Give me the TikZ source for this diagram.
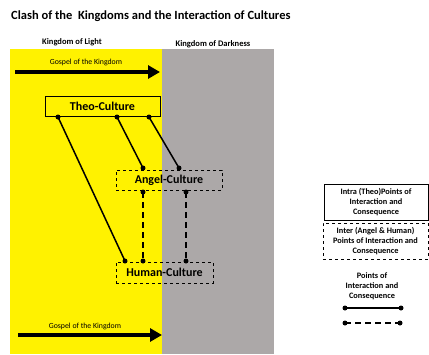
\documentclass[tikz,border=0pt]{standalone}
\usepackage{fontspec}
\setmainfont{Carlito}
\usetikzlibrary{arrows.meta}
\definecolor{kgray}{RGB}{172,168,168}
\tikzset{
  lbl/.style={font=\bfseries\fontsize{8.3}{9.8}\selectfont, align=center, inner sep=0pt},
  culture/.style={draw, font=\bfseries\fontsize{12}{13}\selectfont, inner sep=0pt, line width=0.7pt},
  dbox/.style={culture, dashed},
  dot/.style={circle, fill=black, inner sep=0pt, minimum size=5pt},
  link/.style={line width=1.5pt},
  dlink/.style={link, dash pattern=on 6pt off 4pt},
  bigarrow/.style={line width=4pt, -{Triangle[length=12pt,width=13pt]}}
}
\begin{document}
\begin{tikzpicture}[x=1pt,y=-1pt]
\useasboundingbox (0,0) rectangle (429,354);
\fill[yellow] (10,49) rectangle (162,354);
\fill[kgray] (162,49) rectangle (274,354);
\node[anchor=west, font=\bfseries\fontsize{12.5}{14}\selectfont, inner sep=0pt] (title) at (11,16) {Clash of the\ \ Kingdoms and the Interaction of Cultures};
\node[lbl, font=\bfseries\fontsize{8.5}{9}\selectfont] (kl) at (72,42) {Kingdom of Light};
\node[lbl, font=\bfseries\fontsize{8.5}{9}\selectfont] (kd) at (213,44) {Kingdom of Darkness};
% top arrow
\coordinate (a1s) at (15,72);
\coordinate (a1e) at (160,72);
\draw[bigarrow] (a1s) -- (a1e);
\node[lbl, font=\fontsize{7.8}{8}\selectfont] (g1) at (86,62) {Gospel of the Kingdom};
% bottom arrow
\coordinate (a2s) at (18,335);
\coordinate (a2e) at (162,335);
\draw[bigarrow] (a2s) -- (a2e);
\node[lbl, font=\fontsize{7.8}{8}\selectfont] (g2) at (85,326) {Gospel of the Kingdom};
% boxes
\node[culture, minimum width=115pt, minimum height=20pt] (theo) at (102.5,106) {Theo-Culture};
\node[dbox, minimum width=106pt, minimum height=20pt] (angel) at (169,180) {Angel-Culture};
\node[dbox, minimum width=97pt, minimum height=21pt] (human) at (164.5,272.5) {Human-Culture};
% dots
\node[dot] (t1) at (58,117) {};
\node[dot] (t2) at (117,117) {};
\node[dot] (t3) at (149,117) {};
\node[dot] (a1) at (143,168) {};
\node[dot] (a2) at (179,168) {};
\node[dot] (a3) at (143,192) {};
\node[dot] (a4) at (186,192) {};
\node[dot] (h1) at (125,261) {};
\node[dot] (h2) at (143,261) {};
\node[dot] (h3) at (186,261) {};
% links
\draw[link] (t1.center) -- (h1.center);
\draw[link] (t2.center) -- (a1.center);
\draw[link] (t3.center) -- (a2.center);
\draw[dlink] (a3.center) -- (h2.center);
\draw[dlink] (a4.center) -- (h3.center);
% legend
\node[draw, lbl, minimum width=104pt, minimum height=36pt, line width=0.6pt] (leg1) at (376,202) {Intra (Theo)Points of\\Interaction and\\Consequence};
\node[draw, dashed, lbl, minimum width=105pt, minimum height=36pt, line width=0.6pt] (leg2) at (375.5,241) {Inter (Angel \& Human)\\Points of Interaction and\\Consequence};
\node[lbl] (leg3) at (372,286) {Points of\\Interaction and\\Consequence};
\node[dot] (l1s) at (345,308) {};
\node[dot] (l1e) at (401,308) {};
\node[dot] (l2s) at (345,323) {};
\node[dot] (l2e) at (400,323) {};
\draw[link] (l1s.center) -- (l1e.center);
\draw[dlink] (l2s.center) -- (l2e.center);
\end{tikzpicture}
\end{document}
